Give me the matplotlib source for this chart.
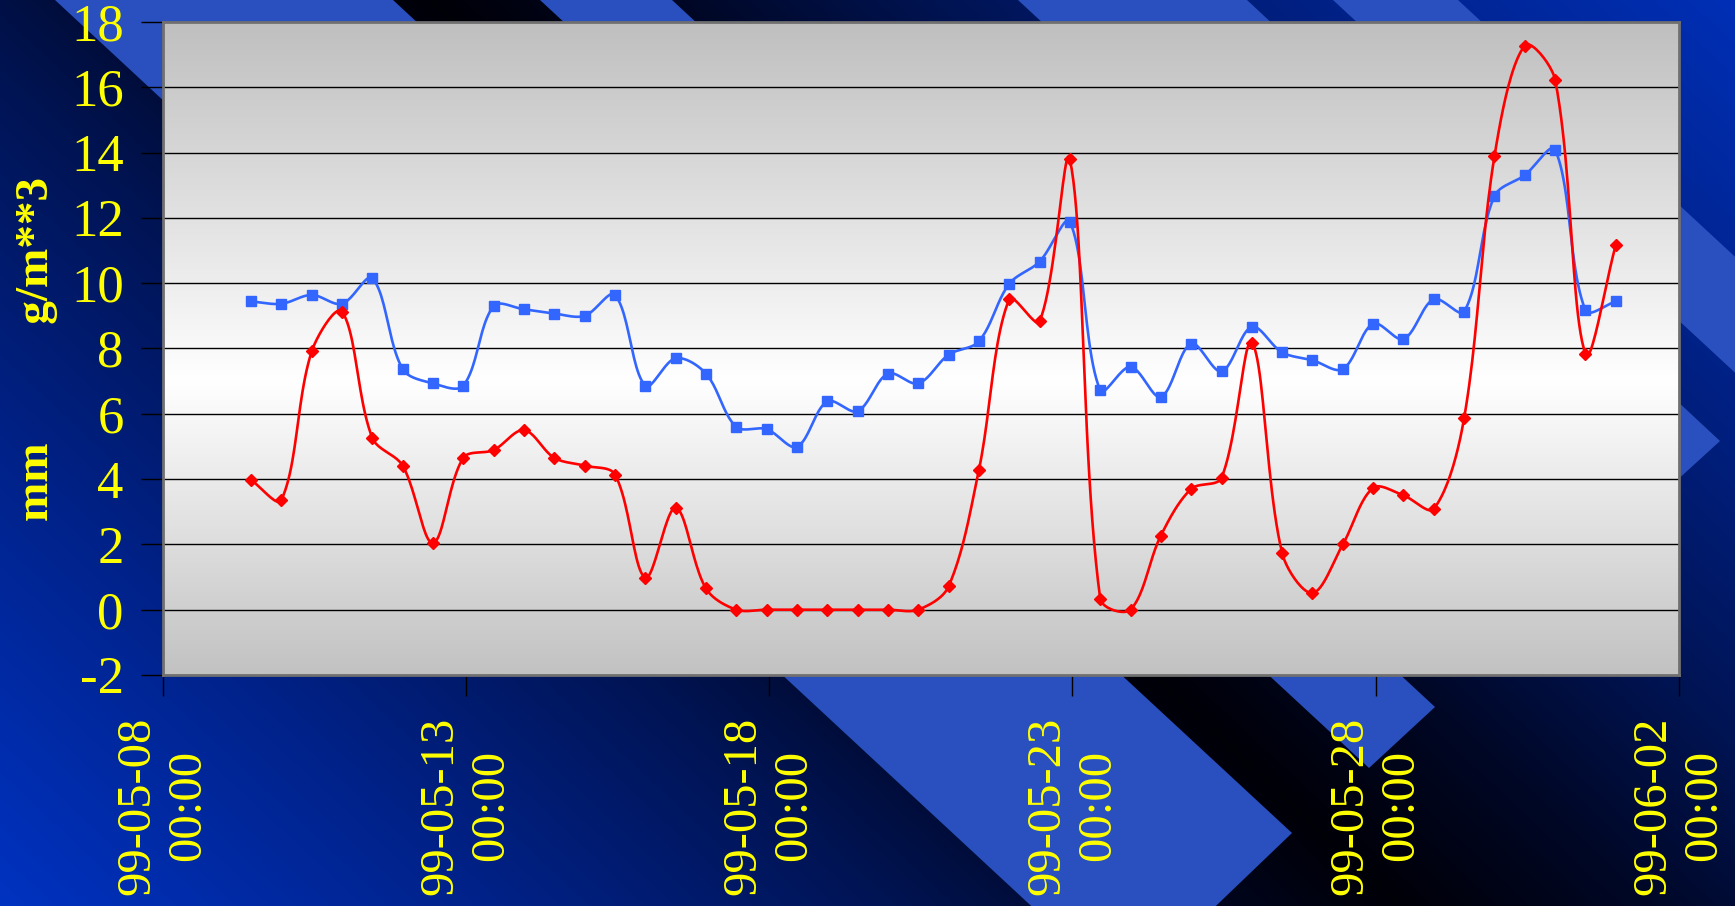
import numpy as np
import matplotlib
matplotlib.use("Agg")
import matplotlib.pyplot as plt
import matplotlib.dates as mdates
from matplotlib.patches import Polygon
import pandas as pd

plt.rcParams['font.family'] = ['Liberation Serif', 'DejaVu Serif']
plt.rcParams['axes.unicode_minus'] = False

# half-daily samples, 99-05-09 11:00 .. 99-06-01 23:00
times = pd.date_range('1999-05-09 11:00', periods=46, freq='12h')

# g/m**3 (blue, squares)
blue = [9.44, 9.37, 9.64, 9.37, 10.15, 7.37, 6.93, 6.86, 9.30, 9.20,
        9.07, 9.00, 9.64, 6.86, 7.70, 7.23, 5.60, 5.53, 4.99, 6.38,
        6.08, 7.23, 6.93, 7.81, 8.22, 9.98, 10.66, 11.88, 6.72, 7.44,
        6.52, 8.15, 7.30, 8.66, 7.88, 7.64, 7.37, 8.76, 8.29, 9.51,
        9.13, 12.67, 13.31, 14.09, 9.17, 9.44]

# mm (red, diamonds)
red = [3.97, 3.36, 7.91, 9.13, 5.26, 4.41, 2.04, 4.65, 4.89, 5.50,
       4.65, 4.41, 4.14, 0.98, 3.12, 0.65, 0.0, 0.0, 0.0, 0.0,
       0.0, 0.0, 0.0, 0.71, 4.28, 9.51, 8.83, 13.79, 0.34, 0.0,
       2.27, 3.70, 4.04, 8.18, 1.73, 0.51, 2.00, 3.73, 3.50, 3.09,
       5.87, 13.89, 17.28, 16.23, 7.84, 11.17]

yticks = list(range(-2, 19, 2))
xtick_dates = pd.date_range('1999-05-08', '1999-06-02', freq='5D')


def smooth(ax, x, y, n=24):
    # excel-like smoothed line: bezier, control arms scaled by chord lengths (screen space)
    p = ax.transData.transform(np.column_stack([x, y]))
    p = np.vstack([p[0], p, p[-1]])
    out = []
    t = np.linspace(0, 1, n)[:, None]
    for i in range(1, len(p) - 2):
        p0, p1, p2, p3 = p[i - 1], p[i], p[i + 1], p[i + 2]
        d01 = np.hypot(*(p1 - p0))
        d12 = np.hypot(*(p2 - p1))
        d23 = np.hypot(*(p3 - p2))
        f1 = d12 / (d01 + d12) / 3 if d01 + d12 > 0 else 0
        f2 = d12 / (d12 + d23) / 3 if d12 + d23 > 0 else 0
        c1 = p1 + (p2 - p0) * f1
        c2 = p2 - (p3 - p1) * f2
        seg = ((1 - t) ** 3) * p1 + 3 * ((1 - t) ** 2) * t * c1 + 3 * (1 - t) * t ** 2 * c2 + t ** 3 * p2
        out.append(seg if i == 1 else seg[1:])
    s = ax.transData.inverted().transform(np.vstack(out))
    return s[:, 0], s[:, 1]


W, H = 1735, 906
fig = plt.figure(figsize=(W / 100, H / 100), dpi=100)

# background: dark diagonal gradient + chevron bands
bg = fig.add_axes([0, 0, 1, 1], zorder=-5)
bg.axis('off')
yy, xx = np.mgrid[0:H, 0:W]
d = np.abs(xx - (430 + yy * 1.07))
stops = [0, 250, 500, 900, 1400]
gch = np.interp(d, stops, [0.0, 0.03, 0.075, 0.13, 0.20])
bch = np.interp(d, stops, [0.03, 0.15, 0.32, 0.53, 0.76])
img = np.dstack([np.zeros_like(gch), gch, bch])
bg.imshow(img, extent=[0, W, H, 0], aspect='auto', interpolation='bilinear')
chev = '#2950be'
bands = [
    [(55, 0), (393, 0), (1292, 833), (1125, 993)],
    [(540, 0), (672, 0), (1435, 707), (1369, 768)],
    [(1018, 0), (1247, 0), (1720, 441), (1606, 545)],
    [(1333, 0), (1458, 0), (2100, 595), (2100, 711)],
]
for b in bands:
    bg.add_patch(Polygon(b, closed=True, facecolor=chev, edgecolor='none'))
bg.set_xlim(0, W)
bg.set_ylim(H, 0)

ax = fig.add_axes([0.0937, 0.2550, 0.8740, 0.7207], zorder=1)
x = mdates.date2num(times.to_pydatetime())
xmin = mdates.date2num(xtick_dates[0].to_pydatetime())
xmax = mdates.date2num(xtick_dates[-1].to_pydatetime())
ax.set_xlim(xmin, xmax)
ax.set_ylim(-2, 18)

# plot area gradient gray -> white -> gray
gy = np.linspace(18, -2, 300)
shade = np.interp(gy, [-2, 7, 18], [0.76, 1.0, 0.75])
grad = np.column_stack([shade, shade, shade])[:, None, :].repeat(2, axis=1)
ax.imshow(grad, extent=[xmin, xmax, -2, 18], aspect='auto', zorder=0)

for v in yticks[1:-1]:
    ax.axhline(v, color='black', lw=1.0, zorder=1)

sx, sy = smooth(ax, x, blue)
ax.plot(sx, sy, color='#3366ff', lw=1.9, zorder=3)
ax.plot(x, blue, ls='none', marker='s', ms=7, color='#3366ff', zorder=4)
sx, sy = smooth(ax, x, red)
ax.plot(sx, sy, color='#ff0000', lw=1.9, zorder=5)
ax.plot(x, red, ls='none', marker='D', ms=6.5, color='#ff0000', zorder=6)

ax.set_xlim(xmin, xmax)
ax.set_ylim(-2, 18)
ax.set_yticks(yticks)
ax.set_yticklabels([str(v) for v in yticks])
ax.set_xticks(mdates.date2num(xtick_dates.to_pydatetime()))
ax.set_xticklabels([t.strftime('%y-%m-%d') + '\n00:00' for t in xtick_dates],
                   rotation=90, ha='center', va='top', multialignment='center')

for s in ax.spines.values():
    s.set_color('#707070')
    s.set_linewidth(2)
ax.tick_params(axis='y', direction='out', length=16, width=1, color='black',
               labelcolor='#ffff00', labelsize=38, pad=12)
ax.tick_params(axis='x', direction='out', length=15, width=1, color='black',
               labelcolor='#ffff00', labelsize=35, pad=15)

fig.text(37 / W, 1 - 349 / H, 'mm          g/m**3', rotation=90, color='#ffff00',
         fontsize=34, fontweight='bold', ha='center', va='center')

fig.savefig('out.png', dpi=100)
